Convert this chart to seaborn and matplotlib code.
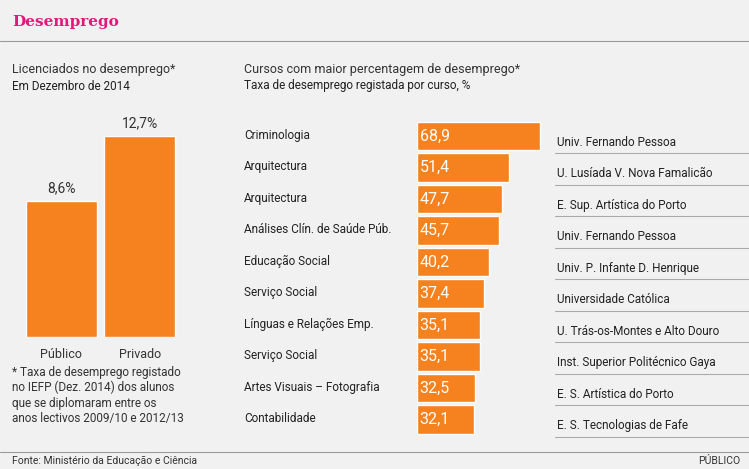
# ==============================
# DESEMPREGO - LICENCIADOS
# ==============================
# Gráfico com dois painéis: público/privado e cursos
# ==============================

import matplotlib.pyplot as plt
import matplotlib.transforms as mtransforms
import seaborn as sns
import pandas as pd

# ------------------------------
# 1. DADOS
# ------------------------------
setores = ["Público", "Privado"]
taxa_setor = [8.6, 12.7]

cursos = ["Criminologia", "Arquitectura", "Arquitectura", "Análises Clín. de Saúde Púb.",
          "Educação Social", "Serviço Social", "Línguas e Relações Emp.", "Serviço Social",
          "Artes Visuais – Fotografia", "Contabilidade"]
taxa_curso = [68.9, 51.4, 47.7, 45.7, 40.2, 37.4, 35.1, 35.1, 32.5, 32.1]
escolas = ["Univ. Fernando Pessoa", "U. Lusíada V. Nova Famalicão", "E. Sup. Artística do Porto",
           "Univ. Fernando Pessoa", "Univ. P. Infante D. Henrique", "Universidade Católica",
           "U. Trás-os-Montes e Alto Douro", "Inst. Superior Politécnico Gaya",
           "E. S. Artística do Porto", "E. S. Tecnologias de Fafe"]

LARANJA = "#F5821F"
FUNDO = "#F1F1F1"
W, H = 749, 469

sns.set_style("white")
plt.rcParams["font.family"] = ["Roboto", "DejaVu Sans"]

fig = plt.figure(figsize=(W / 100, H / 100), dpi=100, facecolor=FUNDO)


def px(x0, y0, x1, y1):
    # converte pixels (topo-esquerda) em coordenadas da figura
    return [x0 / W, 1 - y1 / H, (x1 - x0) / W, (y1 - y0) / H]


# ------------------------------
# 2. CABEÇALHO E RODAPÉ
# ------------------------------
fig.text(12 / W, 1 - 22 / H, "Desemprego", color="#E2187A", fontsize=11,
         fontweight="bold", family="DejaVu Serif", va="center")
fig.add_artist(plt.Line2D([0, 1], [1 - 41 / H] * 2, color="#9a9a9a", lw=0.8))
fig.add_artist(plt.Line2D([0, 1], [1 - 452 / H] * 2, color="#9a9a9a", lw=0.8))
fig.text(12 / W, 1 - 461 / H, "Fonte: Ministério da Educação e Ciência", fontsize=7.5,
         color="#333333", va="center")
fig.text(740 / W, 1 - 461 / H, "PÚBLICO", fontsize=7.5, color="#333333", va="center", ha="right")

fig.text(12 / W, 1 - 70 / H, "Licenciados no desemprego*", fontsize=9, color="#333333", va="center")
fig.text(12 / W, 1 - 86 / H, "Em Dezembro de 2014", fontsize=8.5, color="#222222", va="center")
fig.text(244 / W, 1 - 70 / H, "Cursos com maior percentagem de desemprego*", fontsize=9,
         color="#333333", va="center")
fig.text(244 / W, 1 - 86 / H, "Taxa de desemprego registada por curso, %", fontsize=8.5,
         color="#222222", va="center")
fig.text(12 / W, 1 - 366 / H,
         "* Taxa de desemprego registado\nno IEFP (Dez. 2014) dos alunos\nque se diplomaram entre os\nanos lectivos 2009/10 e 2012/13",
         fontsize=8.5, color="#333333", va="top", linespacing=1.2)

# ------------------------------
# 3. GRÁFICO 1: PÚBLICO vs PRIVADO
# ------------------------------
ax1 = fig.add_axes(px(22, 136, 179, 337))
ax1.set_facecolor(FUNDO)
df_setor = pd.DataFrame({"setor": setores, "taxa": taxa_setor})
sns.barplot(data=df_setor, x="setor", y="taxa", color=LARANJA, saturation=1, width=0.9, ax=ax1)
ax1.set_ylim(0, 12.7)
for i, v in enumerate(taxa_setor):
    ax1.text(i, v + 0.35, f"{v:.1f}%".replace(".", ","), ha="center", va="bottom",
             fontsize=10, color="#333333")
ax1.set_xlabel("")
ax1.set_ylabel("")
ax1.set_yticks([])
ax1.tick_params(axis="x", length=0, labelsize=9, pad=8, labelcolor="#333333")
sns.despine(ax=ax1, left=True, bottom=True)

# ------------------------------
# 4. GRÁFICO 2: CURSOS
# ------------------------------
ax2 = fig.add_axes(px(417, 120.25, 749, 435.25))
ax2.set_facecolor(FUNDO)
df_curso = pd.DataFrame({"curso": [f"{i}" for i in range(len(cursos))], "taxa": taxa_curso})
sns.barplot(data=df_curso, y="curso", x="taxa", color=LARANJA, saturation=1, width=0.89,
            orient="h", ax=ax2)
ax2.set_xlim(0, 68.9 * 332 / 123)
ax2.set_ylim(9.5, -0.5)
ax2.axis("off")

trans = mtransforms.blended_transform_factory(fig.transFigure, ax2.transData)
for i, v in enumerate(taxa_curso):
    ax2.text(1.5, i, f"{v:.1f}".replace(".", ","), color="white", fontsize=11.5,
             va="center", ha="left")
    ax2.text(244 / W, i - 0.03, cursos[i], transform=trans, fontsize=8.5, color="#222222",
             va="center")
    ax2.text(557 / W, i + 0.2, escolas[i], transform=trans, fontsize=8.5, color="#222222",
             va="center")
    ax2.plot([555 / W, 1], [i + 0.54] * 2, transform=trans, color="#aaaaaa", lw=0.8,
             clip_on=False)

plt.savefig("out.png", dpi=100, facecolor=FUNDO)
plt.close()
